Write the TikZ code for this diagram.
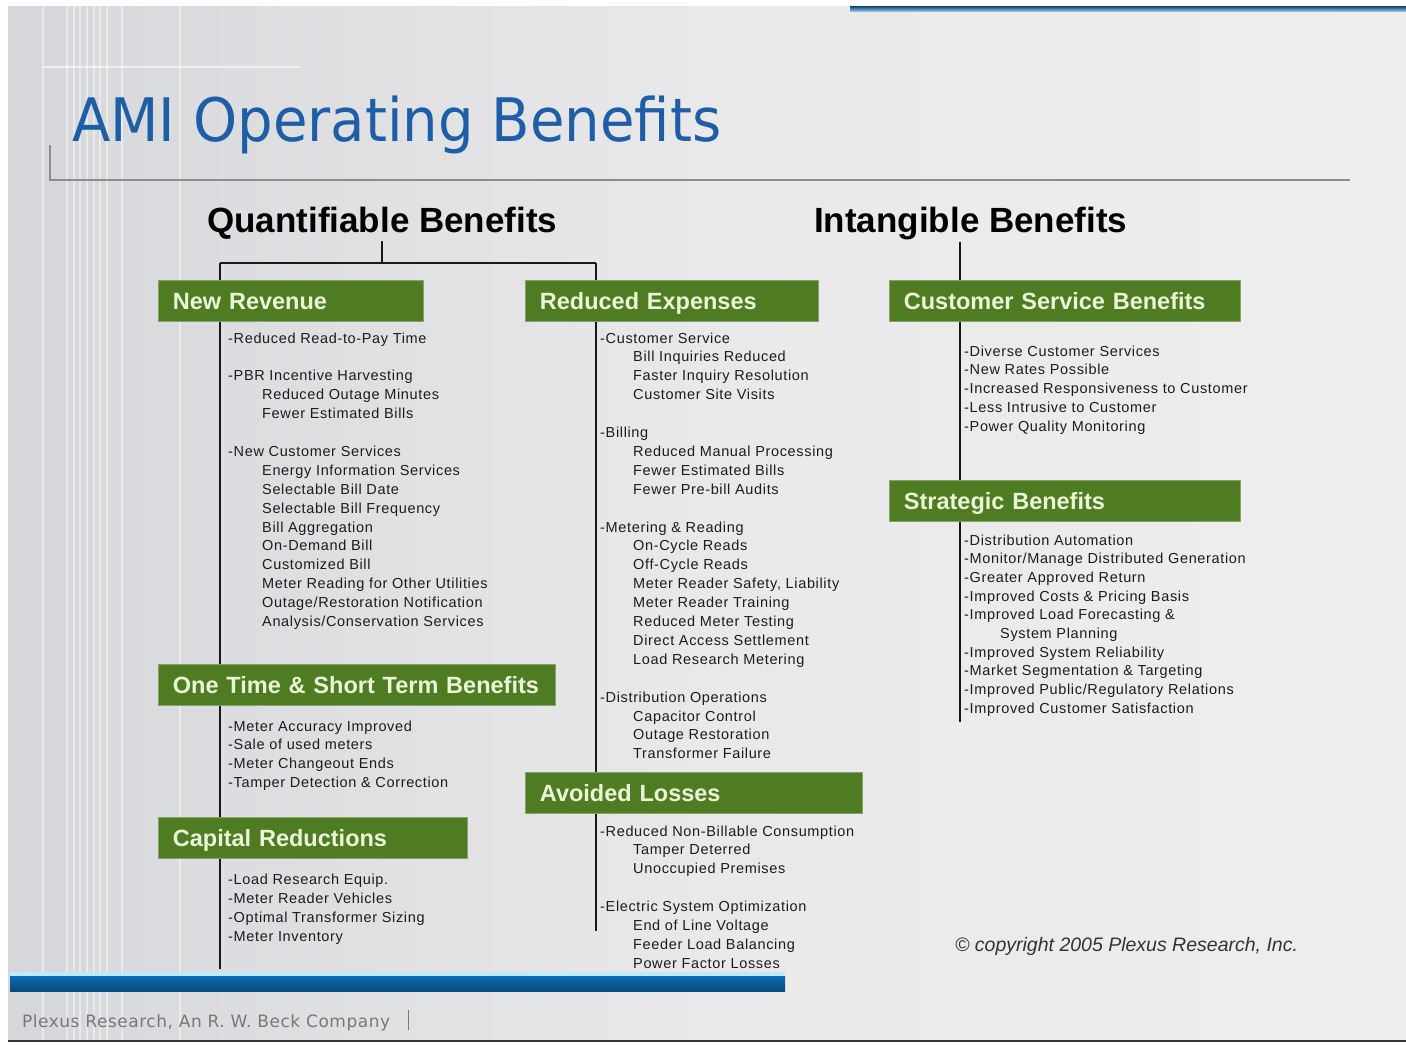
\documentclass[tikz,border=0pt]{standalone}
\usepackage{fontspec}
\setmainfont{Liberation Sans}
\newfontfamily\titlefont[FakeStretch=0.935]{DejaVu Sans}
\newfontfamily\footfont[LetterSpace=3]{DejaVu Sans}
\newfontfamily\listfont[LetterSpace=4.5]{Liberation Sans}
\usetikzlibrary{positioning}

\definecolor{titleblue}{RGB}{30,94,166}
\definecolor{boxgreen}{RGB}{79,124,34}
\definecolor{boxtext}{RGB}{234,245,216}
\definecolor{itemgray}{RGB}{28,28,28}
\definecolor{footgray}{RGB}{120,120,122}
\definecolor{barblue}{RGB}{10,108,178}
\definecolor{bgleft}{RGB}{214,215,218}
\definecolor{bgmid}{RGB}{233,233,235}
\definecolor{bgright}{RGB}{238,238,238}

\tikzset{
  benefit/.style={anchor=north west,fill=boxgreen,draw=boxgreen!70!white,line width=0.8pt,
    text=boxtext,font=\bfseries\fontsize{23.5}{28}\selectfont,
    inner xsep=14.5pt,inner ysep=12pt,text height=17pt,text depth=0pt,align=left},
  heading/.style={anchor=base west,inner sep=2pt,font=\bfseries\fontsize{35}{40}\selectfont},
  item/.style={anchor=base west,inner sep=0pt,text=itemgray,
    font={\listfont\fontsize{14.5}{17}\selectfont}},
  trunk/.style={draw=black!90,line width=1.8pt}
}

\begin{document}
\begin{tikzpicture}[x=1pt,y=-1pt]
\useasboundingbox (0,0) rectangle (1406,1045);
% slide background
\fill[white] (0,0) rectangle (1406,1045);
\shade[left color=bgleft,right color=bgright,middle color=bgmid] (8,6) rectangle (1406,1041);
\foreach \sx in {43,67,74,80,87,94,100,107,122,180}
  \draw[white,opacity=0.45,line width=1.6pt] (\sx,6) -- (\sx,1041);
\draw[white,opacity=0.6,line width=2pt] (43,67) -- (300,67);
\shade[top color=black!40!barblue,bottom color=barblue!45] (850,6) rectangle (1406,11);
\draw[black!80,line width=2pt] (8,1041) -- (1406,1041);
% footer bar
\fill[cyan!25] (10,972) rectangle (785,976);
\shade[top color=barblue,bottom color=barblue!70!black] (10,976) rectangle (785,991);

% title
\node[anchor=base west,inner sep=0pt,text=titleblue,font=\titlefont\fontsize{60}{70}\selectfont] (title) at (72,141) {AMI Operating Benefits};
\draw[black!45,line width=1.2pt] (50,145) -- (50,180) -- (1350,180);

% column headings
\node[heading] (quant) at (205,232) {Quantifiable Benefits};
\node[heading] (intang) at (812,232) {Intangible Benefits};

% green boxes
\node[benefit,text width=236pt] (nrev) at (158,280) {New Revenue};
\node[benefit,text width=264pt] (redexp) at (525,280) {Reduced Expenses};
\node[benefit,text width=322pt] (custsvc) at (889,280) {Customer Service Benefits};
\node[benefit,text width=322pt] (strat) at (889,480) {Strategic Benefits};
\node[benefit,text width=368pt] (onetime) at (158,664) {One Time \& Short Term Benefits};
\node[benefit,text width=280pt] (capred) at (158,817) {Capital Reductions};
\node[benefit,text width=308pt] (avloss) at (525,772) {Avoided Losses};

% tree lines
\coordinate (qleft) at (220,263);
\coordinate (qright) at (596,263);
\coordinate (itop) at (960,242);
\coordinate (lend) at (220,969);
\coordinate (mend) at (596,931);
\coordinate (rend) at (960,722);
\draw[trunk] (quant.south) -- (quant.south |- qleft);
\draw[trunk] (qleft) -- (qright);
\draw[trunk] (qleft) -- (qleft |- nrev.north);
\draw[trunk] (qright) -- (qright |- redexp.north);
\draw[trunk] (qleft |- nrev.south) -- (qleft |- onetime.north);
\draw[trunk] (qleft |- onetime.south) -- (qleft |- capred.north);
\draw[trunk] (qleft |- capred.south) -- (lend);
\draw[trunk] (qright |- redexp.south) -- (qright |- avloss.north);
\draw[trunk] (qright |- avloss.south) -- (mend);
\draw[trunk] (intang.south -| itop) -- (itop |- custsvc.north);
\draw[trunk] (itop |- custsvc.south) -- (itop |- strat.north);
\draw[trunk] (itop |- strat.south) -- (rend);

% New Revenue
\foreach \n/\ind/\t [count=\i] in {
  0/0/{-Reduced Read-to-Pay Time},
  2/0/{-PBR Incentive Harvesting},
  3/1/{Reduced Outage Minutes},
  4/1/{Fewer Estimated Bills},
  6/0/{-New Customer Services},
  7/1/{Energy Information Services},
  8/1/{Selectable Bill Date},
  9/1/{Selectable Bill Frequency},
  10/1/{Bill Aggregation},
  11/1/{On-Demand Bill},
  12/1/{Customized Bill},
  13/1/{Meter Reading for Other Utilities},
  14/1/{Outage/Restoration Notification},
  15/1/{Analysis/Conservation Services}}
  \node[item] (nrev\i) at (228+34*\ind,343+18.9*\n) {\t};

% One Time & Short Term
\foreach \n/\t [count=\i] in {
  0/{-Meter Accuracy Improved},
  1/{-Sale of used meters},
  2/{-Meter Changeout Ends},
  3/{-Tamper Detection \& Correction}}
  \node[item] (onetime\i) at (228,731+18.9*\n) {\t};

% Capital Reductions
\foreach \n/\t [count=\i] in {
  0/{-Load Research Equip.},
  1/{-Meter Reader Vehicles},
  2/{-Optimal Transformer Sizing},
  3/{-Meter Inventory}}
  \node[item] (capred\i) at (228,884+19.2*\n) {\t};

% Reduced Expenses
\foreach \n/\ind/\t [count=\i] in {
  0/0/{-Customer Service},
  1/1/{Bill Inquiries Reduced},
  2/1/{Faster Inquiry Resolution},
  3/1/{Customer Site Visits},
  5/0/{-Billing},
  6/1/{Reduced Manual Processing},
  7/1/{Fewer Estimated Bills},
  8/1/{Fewer Pre-bill Audits},
  10/0/{-Metering \& Reading},
  11/1/{On-Cycle Reads},
  12/1/{Off-Cycle Reads},
  13/1/{Meter Reader Safety, Liability},
  14/1/{Meter Reader Training},
  15/1/{Reduced Meter Testing},
  16/1/{Direct Access Settlement},
  17/1/{Load Research Metering},
  19/0/{-Distribution Operations},
  20/1/{Capacitor Control},
  21/1/{Outage Restoration},
  22/1/{Transformer Failure}}
  \node[item] (redexp\i) at (600+33*\ind,343+18.9*\n) {\t};

% Avoided Losses
\foreach \n/\ind/\t [count=\i] in {
  0/0/{-Reduced Non-Billable Consumption},
  1/1/{Tamper Deterred},
  2/1/{Unoccupied Premises},
  4/0/{-Electric System Optimization},
  5/1/{End of Line Voltage},
  6/1/{Feeder Load Balancing},
  7/1/{Power Factor Losses}}
  \node[item] (avloss\i) at (600+33*\ind,836+18.9*\n) {\t};

% Customer Service Benefits
\foreach \n/\t [count=\i] in {
  0/{-Diverse Customer Services},
  1/{-New Rates Possible},
  2/{-Increased Responsiveness to Customer},
  3/{-Less Intrusive to Customer},
  4/{-Power Quality Monitoring}}
  \node[item] (custsvc\i) at (964,356+18.75*\n) {\t};

% Strategic Benefits
\foreach \n/\ind/\t [count=\i] in {
  0/0/{-Distribution Automation},
  1/0/{-Monitor/Manage Distributed Generation},
  2/0/{-Greater Approved Return},
  3/0/{-Improved Costs \& Pricing Basis},
  4/0/{-Improved Load Forecasting \&},
  5/1/{System Planning},
  6/0/{-Improved System Reliability},
  7/0/{-Market Segmentation \& Targeting},
  8/0/{-Improved Public/Regulatory Relations},
  9/0/{-Improved Customer Satisfaction}}
  \node[item] (strat\i) at (964+36*\ind,545+18.7*\n) {\t};

% copyright and footer
\node[anchor=base west,inner sep=0pt,text=black!80,font=\itshape\fontsize{19.5}{22}\selectfont] (copy) at (955,951) {\textcopyright{} copyright 2005 Plexus Research, Inc.};
\node[anchor=base west,inner sep=0pt,text=footgray,font=\footfont\fontsize{17}{20}\selectfont] (foot) at (22,1027) {Plexus Research, An R. W. Beck Company};
\draw[footgray,line width=1.5pt] (foot.base east) ++(18,3) -- ++(0,-20);
\end{tikzpicture}
\end{document}
